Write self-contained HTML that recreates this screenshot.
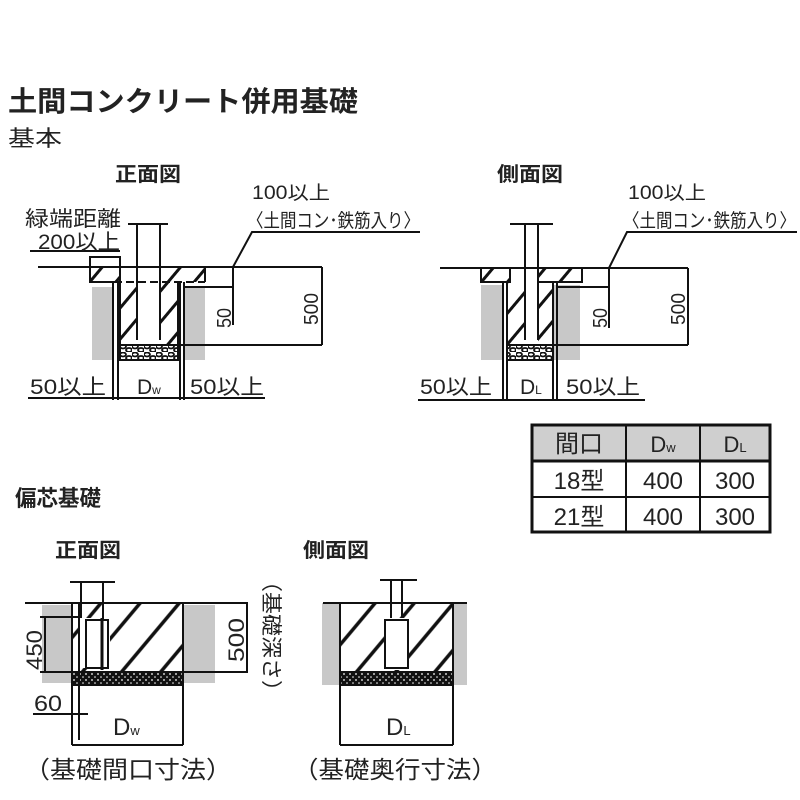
<!DOCTYPE html>
<html><head><meta charset="utf-8"><style>
html,body{margin:0;padding:0;background:#fff;}
svg{display:block;}
text{font-family:"Liberation Sans","Noto Sans CJK JP",sans-serif;fill:#222;}
</style></head><body>
<svg width="800" height="800" viewBox="0 0 800 800" xmlns="http://www.w3.org/2000/svg">
<defs>
<pattern id="h" patternUnits="userSpaceOnUse" width="20" height="20" patternTransform="rotate(40)">
<rect width="20" height="20" fill="#fff"/><line x1="10" y1="0" x2="10" y2="20" stroke="#111" stroke-width="3"/></pattern>
<pattern id="h2" patternUnits="userSpaceOnUse" width="30" height="30" patternTransform="rotate(40)">
<rect width="30" height="30" fill="#fff"/><line x1="15" y1="0" x2="15" y2="30" stroke="#111" stroke-width="3.5"/></pattern>
<pattern id="g" patternUnits="userSpaceOnUse" width="12" height="8">
<rect width="12" height="8" fill="#fff"/><ellipse cx="3" cy="2.5" rx="3" ry="2" fill="none" stroke="#111" stroke-width="1.8"/><ellipse cx="9" cy="6" rx="3" ry="2" fill="none" stroke="#111" stroke-width="1.8"/></pattern>
<pattern id="g2" patternUnits="userSpaceOnUse" width="6" height="6">
<rect width="6" height="6" fill="#111"/><circle cx="2" cy="2" r="0.9" fill="#fff"/><circle cx="5" cy="5" r="0.8" fill="#fff"/></pattern>
</defs>

<!-- Titles -->
<text x="8" y="111" font-size="28" font-weight="bold" textLength="350" lengthAdjust="spacingAndGlyphs">土間コンクリート併用基礎</text>
<text x="8" y="146" font-size="22" textLength="54" lengthAdjust="spacingAndGlyphs">基本</text>
<text x="115" y="181" font-size="20" font-weight="bold" textLength="66" lengthAdjust="spacingAndGlyphs">正面図</text>
<text x="497" y="181" font-size="20" font-weight="bold" textLength="66" lengthAdjust="spacingAndGlyphs">側面図</text>

<!-- ===== Front view basic ===== -->
<g stroke="#111" fill="none" stroke-width="2">
<rect x="92" y="287" width="20" height="73" fill="#c8c8c8" stroke="none"/>
<rect x="183" y="287" width="22" height="73" fill="#c8c8c8" stroke="none"/>
<rect x="120" y="282" width="17" height="63" fill="url(#h)" stroke="none"/>
<rect x="160" y="282" width="18" height="63" fill="url(#h)" stroke="none"/>
<rect x="120" y="345" width="58" height="15" fill="url(#g)"/>
<rect x="90" y="267" width="30" height="15" fill="url(#h)" stroke="none"/>
<rect x="160" y="267" width="45" height="15" fill="url(#h)" stroke="none"/>
<rect x="90" y="257" width="30" height="25"/>
<line x1="38" y1="267" x2="322" y2="267"/>
<line x1="90" y1="282" x2="205" y2="282" stroke-dasharray="8,4"/>
<line x1="205" y1="267" x2="205" y2="282"/>
<line x1="137" y1="224" x2="137" y2="340"/>
<line x1="160" y1="224" x2="160" y2="340"/>
<line x1="128" y1="224" x2="168" y2="224"/>
<line x1="113" y1="282" x2="113" y2="400"/><line x1="118" y1="282" x2="118" y2="400"/>
<line x1="180" y1="282" x2="180" y2="400"/><line x1="184" y1="282" x2="184" y2="400"/>
<line x1="120" y1="282" x2="120" y2="360"/><line x1="178" y1="282" x2="178" y2="360"/>
<line x1="184" y1="287" x2="233" y2="287"/>
<line x1="233" y1="267" x2="233" y2="325"/>
<line x1="178" y1="345" x2="322" y2="345"/>
<line x1="322" y1="267" x2="322" y2="345"/>
<polyline points="233,267 252,232 420,232"/>
<line x1="30" y1="251" x2="120" y2="251"/>
<line x1="28" y1="398" x2="265" y2="398"/>
</g>
<text x="25" y="226" font-size="21" textLength="96" lengthAdjust="spacingAndGlyphs">緑端距離</text>
<text x="38" y="249" font-size="21" textLength="82" lengthAdjust="spacingAndGlyphs">200以上</text>
<text x="252" y="199" font-size="19" textLength="78" lengthAdjust="spacingAndGlyphs">100以上</text>
<text x="247" y="227" font-size="19" textLength="173" lengthAdjust="spacingAndGlyphs">〈土間コン･鉄筋入り〉</text>
<text transform="translate(231,328) rotate(-90)" font-size="20" textLength="20" lengthAdjust="spacingAndGlyphs">50</text>
<text transform="translate(318,325) rotate(-90)" font-size="20" textLength="32" lengthAdjust="spacingAndGlyphs">500</text>
<text x="30" y="394" font-size="21" textLength="76" lengthAdjust="spacingAndGlyphs">50以上</text>
<text x="190" y="394" font-size="21" textLength="74" lengthAdjust="spacingAndGlyphs">50以上</text>
<text x="137" y="394" font-size="21">D<tspan font-size="12">w</tspan></text>

<!-- ===== Side view basic ===== -->
<g stroke="#111" fill="none" stroke-width="2">
<rect x="481" y="285" width="22" height="75" fill="#c8c8c8" stroke="none"/>
<rect x="553" y="285" width="27" height="75" fill="#c8c8c8" stroke="none"/>
<rect x="507" y="282" width="18" height="63" fill="url(#h)" stroke="none"/>
<rect x="538" y="282" width="15" height="63" fill="url(#h)" stroke="none"/>
<rect x="507" y="345" width="46" height="15" fill="url(#g)"/>
<rect x="481" y="268" width="29" height="14" fill="url(#h)"/>
<rect x="538" y="268" width="44" height="14" fill="url(#h)"/>
<line x1="440" y1="268" x2="688" y2="268"/>
<line x1="525" y1="224" x2="525" y2="340"/>
<line x1="538" y1="224" x2="538" y2="340"/>
<line x1="510" y1="224" x2="553" y2="224"/>
<line x1="503" y1="282" x2="503" y2="400"/><line x1="507" y1="282" x2="507" y2="400"/>
<line x1="553" y1="282" x2="553" y2="400"/><line x1="557" y1="282" x2="557" y2="400"/>
<line x1="557" y1="287" x2="609" y2="287"/>
<line x1="609" y1="268" x2="609" y2="328"/>
<line x1="553" y1="345" x2="688" y2="345"/>
<line x1="688" y1="268" x2="688" y2="345"/>
<polyline points="609,268 627,232 797,232"/>
<line x1="418" y1="400" x2="645" y2="400"/>
</g>
<text x="628" y="199" font-size="19" textLength="78" lengthAdjust="spacingAndGlyphs">100以上</text>
<text x="623" y="227" font-size="19" textLength="173" lengthAdjust="spacingAndGlyphs">〈土間コン･鉄筋入り〉</text>
<text transform="translate(607,328) rotate(-90)" font-size="20" textLength="20" lengthAdjust="spacingAndGlyphs">50</text>
<text transform="translate(685,325) rotate(-90)" font-size="20" textLength="32" lengthAdjust="spacingAndGlyphs">500</text>
<text x="420" y="394" font-size="21" textLength="72" lengthAdjust="spacingAndGlyphs">50以上</text>
<text x="566" y="394" font-size="21" textLength="74" lengthAdjust="spacingAndGlyphs">50以上</text>
<text x="520" y="394" font-size="21">D<tspan font-size="12">L</tspan></text>

<!-- ===== Table ===== -->
<g stroke="#111" stroke-width="3" fill="none">
<rect x="532" y="425" width="238" height="36" fill="#cfcfcf"/>
<rect x="532" y="425" width="238" height="107"/>
<line x1="532" y1="461" x2="770" y2="461"/>
<line x1="532" y1="497" x2="770" y2="497" stroke-width="2"/>
<line x1="626" y1="425" x2="626" y2="532" stroke-width="2"/>
<line x1="700" y1="425" x2="700" y2="532" stroke-width="2"/>
</g>
<g font-size="24" text-anchor="middle">
<text x="579" y="452">間口</text>
<text x="663" y="452" font-size="22">D<tspan font-size="13">w</tspan></text>
<text x="735" y="452" font-size="22">D<tspan font-size="13">L</tspan></text>
<text x="579" y="489">18型</text><text x="663" y="489">400</text><text x="735" y="489">300</text>
<text x="579" y="525">21型</text><text x="663" y="525">400</text><text x="735" y="525">300</text>
</g>

<!-- ===== Offset ===== -->
<text x="15" y="506" font-size="22" font-weight="bold" textLength="86" lengthAdjust="spacingAndGlyphs">偏芯基礎</text>
<text x="55" y="557" font-size="20" font-weight="bold" textLength="66" lengthAdjust="spacingAndGlyphs">正面図</text>
<text x="303" y="557" font-size="20" font-weight="bold" textLength="66" lengthAdjust="spacingAndGlyphs">側面図</text>

<g stroke="#111" fill="none" stroke-width="2">
<rect x="42" y="605" width="30" height="78" fill="#c8c8c8" stroke="none"/>
<rect x="183" y="605" width="32" height="78" fill="#c8c8c8" stroke="none"/>
<rect x="72" y="603" width="111" height="69" fill="url(#h2)" stroke="none"/>
<rect x="80" y="618" width="30" height="50" fill="#fff" stroke="none"/>
<rect x="72" y="672" width="111" height="13" fill="url(#g2)" stroke="#111"/>
<line x1="25" y1="603" x2="248" y2="603"/>
<line x1="72" y1="603" x2="72" y2="745"/><line x1="183" y1="603" x2="183" y2="745"/>
<line x1="79" y1="603" x2="79" y2="740"/>
<line x1="81" y1="582" x2="81" y2="618"/><line x1="103" y1="582" x2="103" y2="620"/>
<line x1="70" y1="582" x2="115" y2="582"/>
<rect x="86" y="620" width="22" height="48"/>
<line x1="102" y1="618" x2="102" y2="670" stroke-width="3"/>
<line x1="40" y1="617" x2="80" y2="617"/>
<line x1="40" y1="672" x2="80" y2="672"/>
<line x1="45" y1="617" x2="45" y2="672"/>
<line x1="33" y1="714" x2="88" y2="714"/>
<line x1="72" y1="745" x2="183" y2="745"/>
<line x1="183" y1="672" x2="248" y2="672"/>
<line x1="247" y1="603" x2="247" y2="672"/>
</g>
<text transform="translate(42,670) rotate(-90)" font-size="22" textLength="40" lengthAdjust="spacingAndGlyphs">450</text>
<text x="34" y="711" font-size="22" textLength="28" lengthAdjust="spacingAndGlyphs">60</text>
<text transform="translate(244,662) rotate(-90)" font-size="22" textLength="44" lengthAdjust="spacingAndGlyphs">500</text>
<text transform="translate(264,570) rotate(90)" font-size="21" textLength="132" lengthAdjust="spacingAndGlyphs">（基礎深さ）</text>
<text x="113" y="735" font-size="24">D<tspan font-size="13">w</tspan></text>
<text x="24" y="778" font-size="24" textLength="208" lengthAdjust="spacingAndGlyphs">（基礎間口寸法）</text>

<g stroke="#111" fill="none" stroke-width="2">
<rect x="322" y="603" width="18" height="82" fill="#c8c8c8" stroke="none"/>
<rect x="453" y="603" width="14" height="82" fill="#c8c8c8" stroke="none"/>
<rect x="340" y="603" width="113" height="69" fill="url(#h2)" stroke="none"/>
<rect x="384" y="618" width="24" height="52" fill="#fff" stroke="none"/>
<rect x="340" y="672" width="113" height="13" fill="url(#g2)" stroke="#111"/>
<line x1="323" y1="603" x2="467" y2="603"/>
<line x1="340" y1="603" x2="340" y2="745"/><line x1="453" y1="603" x2="453" y2="745"/>
<line x1="391" y1="580" x2="391" y2="618"/><line x1="402" y1="580" x2="402" y2="618"/>
<line x1="380" y1="580" x2="417" y2="580"/>
<rect x="385" y="620" width="23" height="48"/>
<line x1="340" y1="745" x2="453" y2="745"/>
</g>
<text x="386" y="735" font-size="24">D<tspan font-size="13">L</tspan></text>
<text x="293" y="778" font-size="24" textLength="204" lengthAdjust="spacingAndGlyphs">（基礎奥行寸法）</text>
</svg>
</body></html>
